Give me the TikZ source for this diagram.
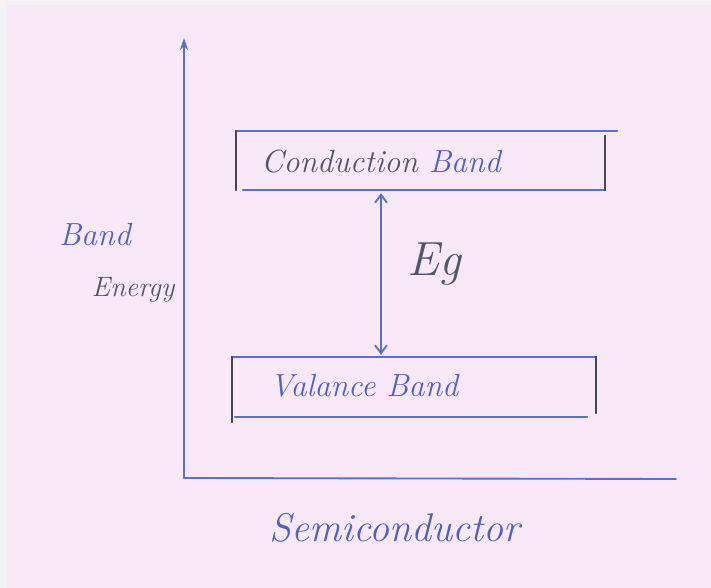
\documentclass[tikz,border=0pt]{standalone}
\usetikzlibrary{arrows.meta}
\definecolor{paper}{RGB}{248,232,248}
\definecolor{edge}{RGB}{244,242,244}
\definecolor{pen}{RGB}{88,112,208}
\definecolor{ink}{RGB}{78,98,196}
\definecolor{dark}{RGB}{80,86,112}
\definecolor{endc}{RGB}{70,70,80}
\tikzset{
  pline/.style={draw=pen, line width=1.4pt, line cap=round},
  eline/.style={draw=endc, line width=1.4pt, line cap=round},
  bandbox/.style={draw=none, inner sep=0pt},
  hand/.style={font=\itshape, inner sep=0pt}
}
\begin{document}
\begin{tikzpicture}[x=0.75pt, y=-0.75pt]
\fill[edge] (0,0) rectangle (711,588);
\fill[paper] (7,5) rectangle (711,588);
\useasboundingbox (0,0) rectangle (711,588);
% axes
\coordinate (O) at (184,478);
\coordinate (ytop) at (184,38);
\coordinate (xend) at (676,479);
\draw[pline, -{Stealth[length=9pt,width=6pt]}] (O) -- (ytop);
\draw[pline] (O) -- (xend);
% conduction band
\node[bandbox, minimum width=369*0.75pt, minimum height=59*0.75pt] (cb) at (420.5,160.5) {};
\draw[pline] (cb.north west) -- ([xshift=12*0.75pt]cb.north east);
\draw[pline] ([xshift=7*0.75pt]cb.south west) -- (cb.south east);
\draw[eline] (cb.north west) -- (cb.south west);
\draw[eline] ([yshift=-5*0.75pt]cb.north east) -- (cb.south east);
\node[hand, text=dark, font=\itshape\fontsize{24}{28}\selectfont] (cbt) at (381,162) {Conduction \textcolor{ink}{Band}};
% valence band
\node[bandbox, minimum width=364*0.75pt, minimum height=60*0.75pt] (vb) at (414,387) {};
\draw[pline] (vb.north west) -- (vb.north east);
\draw[pline] ([xshift=3*0.75pt]vb.south west) -- ([xshift=-9*0.75pt]vb.south east);
\draw[eline] (vb.north west) -- ([yshift=-5*0.75pt]vb.south west);
\draw[eline] (vb.north east) -- ([yshift=4*0.75pt]vb.south east);
\node[hand, text=ink, font=\itshape\fontsize{24}{28}\selectfont] (vbt) at (364,386) {Valance Band};
% energy gap
\coordinate (gx) at (381,300);
\draw[draw=pen, line width=1.4pt, shorten <=2.2pt, shorten >=1.5pt, {Straight Barb[length=6pt,width=9pt]}-{Straight Barb[length=6pt,width=9pt]}] (cb.south -| gx) -- (vb.north -| gx);
\node[hand, text=dark, font=\itshape\fontsize{36}{40}\selectfont] (eg) at (434,264) {Eg};
% labels
\node[hand, text=ink, font=\itshape\fontsize{24}{28}\selectfont] (band) at (95,235) {Band};
\node[hand, text=dark, font=\itshape\fontsize{21}{25}\selectfont] (energy) at (133,290) {Energy};
\node[hand, text=ink, font=\itshape\fontsize{30}{35}\selectfont] (semi) at (395,528) {Semiconductor};
\end{tikzpicture}
\end{document}
